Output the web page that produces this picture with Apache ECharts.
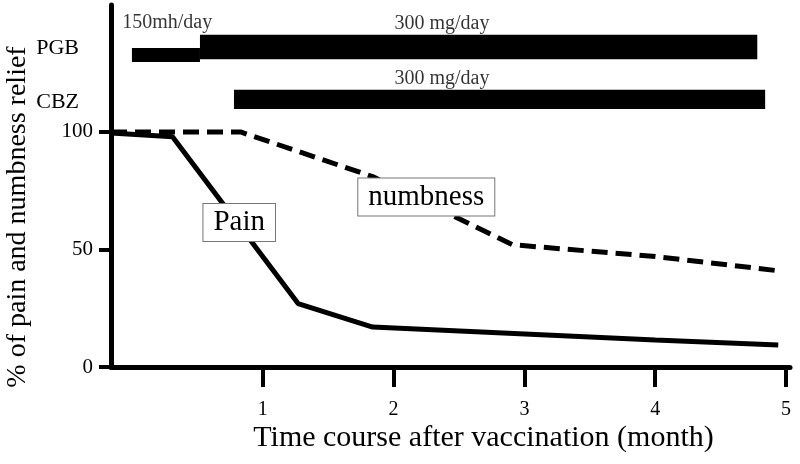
<!DOCTYPE html>
<html>
<head>
<meta charset="utf-8">
<script src="https://cdn.jsdelivr.net/npm/echarts@6.0.0/dist/echarts.min.js"></script>
<style>
  html, body { margin: 0; padding: 0; background: #fff; }
  #chart { width: 800px; height: 464px; }
</style>
</head>
<body>
<div id="chart"></div>
<script>
// relief curves, x in months after vaccination
const painMonths = [-0.16, 0.31, 1.27, 1.84, 4.0, 4.94];
const painRelief = [99.5, 98, 27, 17, 11.5, 9.4];
const numbMonths = [-0.16, 0.83, 1.84, 2.91, 4.0, 4.93];
const numbRelief = [100, 100, 81, 52, 47, 41];

const xTicks = [1, 2, 3, 4, 5];
const yTicks = [0, 50, 100];

// drug rows drawn above the 100% line
const drugs = ['PGB', 'CBZ'];
const drugRow = [135.7, 112.8];

// dose bars: start / end month, low / high extent on the y scale
const doseFrom = [0.0, 0.52, 0.78];
const doseTo = [0.52, 4.78, 4.84];
const doseLow = [129.8, 130.9, 109.8];
const doseHigh = [135.7, 141.3, 117.9];
const doseText = ['150mh/day', '300 mg/day', '300 mg/day'];
const doseTextX = [0.27, 2.37, 2.37];
const doseTextY = [146.5, 146, 122.5];

const serif = '"Liberation Serif", "DejaVu Serif", serif';

const chart = echarts.init(document.getElementById('chart'));

const boxLabel = {
    show: true,
    position: 'inside',
    color: '#000',
    fontFamily: serif,
    fontSize: 29,
    backgroundColor: '#fff',
    borderColor: '#777',
    borderWidth: 1,
    padding: [4, 10, 4, 10]
};

chart.setOption({
    backgroundColor: '#fff',
    animation: false,
    grid: {left: 111, right: 10, top: 5, bottom: 97, outerBoundsMode: 'none'},
    xAxis: {
        type: 'value',
        min: -0.16,
        max: 5.03,
        name: 'Time course after vaccination (month)',
        nameLocation: 'middle',
        nameGap: 56,
        nameMoveOverlap: false,
        nameTextStyle: {fontFamily: serif, fontSize: 30, color: '#000', padding: [0, 0, 0, 66]},
        axisLine: {onZero: false, lineStyle: {color: '#000', width: 5}},
        axisTick: {show: true, customValues: xTicks, length: 20, lineStyle: {color: '#000', width: 4}},
        axisLabel: {customValues: xTicks, margin: 33, fontFamily: serif, fontSize: 20, color: '#000'},
        splitLine: {show: false}
    },
    yAxis: {
        type: 'value',
        min: 0,
        max: 154,
        name: '% of pain and numbness relief',
        nameLocation: 'middle',
        nameGap: 79,
        nameMoveOverlap: false,
        nameTextStyle: {fontFamily: serif, fontSize: 28, color: '#000', padding: [0, 62, 0, 0]},
        axisLine: {show: true, onZero: false, lineStyle: {color: '#000', width: 5}},
        axisTick: {show: true, customValues: yTicks, length: 12, lineStyle: {color: '#000', width: 4}},
        axisLabel: {
            customValues: yTicks.concat(drugRow),
            margin: 18,
            fontFamily: serif,
            fontSize: 21,
            color: '#000',
            formatter: v => {
                const i = drugRow.indexOf(v);
                return i >= 0 ? '{drug|' + drugs[i] + '}' : String(v);
            },
            rich: {
                drug: {fontFamily: serif, fontSize: 22, color: '#000', padding: [0, 14, 0, 0]}
            }
        },
        splitLine: {show: false}
    },
    series: [
        {
            name: 'dose',
            type: 'custom',
            silent: true,
            renderItem: (params, api) => {
                const a = api.coord([api.value(0), api.value(3)]);
                const b = api.coord([api.value(1), api.value(2)]);
                return {
                    type: 'rect',
                    shape: {x: a[0], y: a[1], width: b[0] - a[0], height: b[1] - a[1]},
                    style: {fill: '#000'}
                };
            },
            encode: {x: [0, 1], y: [2, 3]},
            data: doseFrom.map((f, i) => [f, doseTo[i], doseLow[i], doseHigh[i]])
        },
        {
            name: 'doseText',
            type: 'scatter',
            symbolSize: 0,
            silent: true,
            label: {
                show: true,
                position: 'inside',
                formatter: p => p.value[2],
                fontFamily: serif,
                fontSize: 20,
                color: '#000'
            },
            data: doseText.map((t, i) => [doseTextX[i], doseTextY[i], t])
        },
        {
            name: 'Pain',
            type: 'line',
            symbol: 'none',
            lineStyle: {color: '#000', width: 5},
            data: painMonths.map((m, i) => [m, painRelief[i]]),
            markPoint: {
                symbol: 'rect',
                symbolSize: 0,
                label: Object.assign({formatter: 'Pain'}, boxLabel),
                data: [{coord: [0.82, 61.5]}]
            },
            z: 3
        },
        {
            name: 'numbness',
            type: 'line',
            symbol: 'none',
            lineStyle: {color: '#000', width: 5, type: [16, 8]},
            data: numbMonths.map((m, i) => [m, numbRelief[i]]),
            markPoint: {
                symbol: 'rect',
                symbolSize: 0,
                label: Object.assign({formatter: 'numbness'}, boxLabel),
                data: [{coord: [2.25, 72.3]}]
            },
            z: 3
        }
    ]
});
</script>
</body>
</html>
